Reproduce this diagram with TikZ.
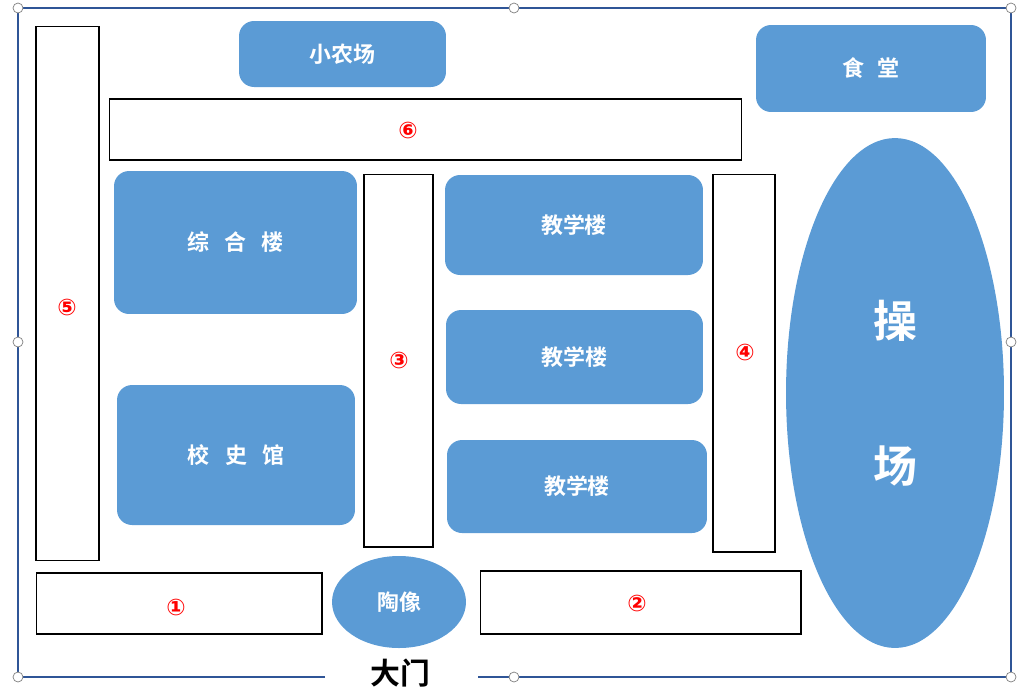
\documentclass[tikz,border=0pt]{standalone}
\usepackage{fontspec}
\newfontfamily\cjk{Noto Sans CJK SC}[BoldFont={Noto Sans CJK SC Bold}]
\newfontfamily\sym{DejaVu Sans}
\usetikzlibrary{shapes.geometric}
\definecolor{blkblue}{HTML}{5B9BD5}
\definecolor{framecol}{HTML}{2F5597}
\tikzset{
  blk/.style={fill=blkblue, draw=none, rounded corners=0.3cm, text=white, font=\cjk\bfseries\fontsize{12.5}{14}\selectfont},
  road/.style={draw=black, fill=white, line width=0.6pt},
  num/.style={text=red, font=\sym\bfseries\fontsize{13}{15}\selectfont},
  handle/.style={circle, draw=gray, fill=white, inner sep=0pt, minimum size=0.2cm}
}
\begin{document}
\begin{tikzpicture}[x=0.02cm, y=-0.02cm]
        \useasboundingbox (0,0) rectangle (1026,694);
        % Marco
        \coordinate (tl) at (18,8);  \coordinate (tr) at (1011,8);
        \coordinate (bl) at (18,677); \coordinate (br) at (1011,677);
        \coordinate (gl) at (325,677); \coordinate (gr) at (478,677);
        \draw[framecol, line width=1.2pt] (gl) -- (bl) -- (tl) -- (tr) -- (br) -- (gr);
        \foreach \p in {(18,8),(514,8),(1011,8),(18,342),(1011,342),(18,677),(514,677),(1011,677)}
          \node[handle] at \p {};
        % Caminos
        \node[road, minimum width=1.26cm, minimum height=10.7cm] (r5) at (67.5,293.5) {};
        \node[road, minimum width=12.66cm, minimum height=1.22cm] (r6) at (425.5,129.5) {};
        \node[road, minimum width=1.38cm, minimum height=7.46cm] (r3) at (398.5,360.5) {};
        \node[road, minimum width=1.24cm, minimum height=7.56cm] (r4) at (744,363) {};
        \node[road, minimum width=5.72cm, minimum height=1.22cm] (r1) at (179,603.5) {};
        \node[road, minimum width=6.42cm, minimum height=1.26cm] (r2) at (640.5,602.5) {};
        \node[num] (n5) at (67,307) {⑤};
        \node[num] (n6) at (408,130) {⑥};
        \node[num] (n3) at (399,360) {③};
        \node[num] (n4) at (745,352) {④};
        \node[num] (n1) at (176,607) {①};
        \node[num] (n2) at (637,603) {②};
        % Edificios
        \node[blk, minimum width=4.14cm, minimum height=1.32cm] (farm) at (342.5,54) {小农场};
        \node[blk, minimum width=4.6cm, minimum height=1.74cm] (canteen) at (871,68.5) {食\hspace{0.6em}堂};
        \node[blk, minimum width=4.86cm, minimum height=2.86cm] (zonghe) at (235.5,242.5) {综\hspace{0.7em}合\hspace{0.7em}楼};
        \node[blk, minimum width=4.76cm, minimum height=2.8cm] (museum) at (236,455) {校\hspace{0.7em}史\hspace{0.7em}馆};
        \node[blk, minimum width=5.16cm, minimum height=2cm] (teach1) at (574,225) {教学楼};
        \node[blk, minimum width=5.14cm, minimum height=1.88cm] (teach2) at (574.5,357) {教学楼};
        \node[blk, minimum width=5.2cm, minimum height=1.86cm] (teach3) at (577,486.5) {教学楼};
        \node[blk, ellipse, minimum width=4.36cm, minimum height=10.2cm, align=center,
              font=\cjk\bfseries\fontsize{25}{30}\selectfont] (field) at (895,393) {操\\[2.1em]场};
        \node[blk, ellipse, minimum width=2.68cm, minimum height=1.84cm] (statue) at (399,602) {陶像};
        \node[font=\cjk\bfseries\fontsize{17}{20}\selectfont] (gate) at (400,673) {大门};
\end{tikzpicture}
\end{document}
